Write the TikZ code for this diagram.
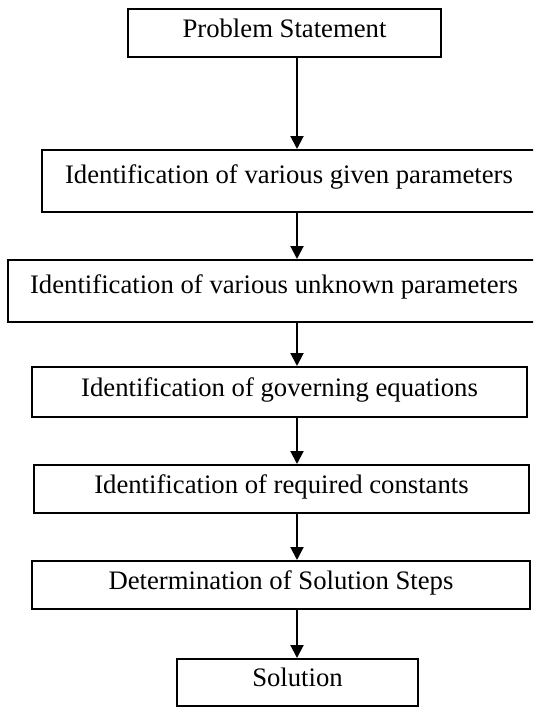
\documentclass[tikz,border=0pt]{standalone}
\usepackage{fontspec}
\setmainfont{Liberation Serif}
\usetikzlibrary{arrows.meta}

\begin{document}
\begin{tikzpicture}[x=1pt, y=-1pt,
  every node/.style={font=\fontsize{26.7}{32}\selectfont},
  stepbox/.style={draw=black, line width=2pt, rectangle, inner sep=0pt,
    text height=0.85em, text depth=0.03em},
  lowbox/.style={stepbox, text height=0.65em, text depth=0.24em},
  flow/.style={line width=2pt, -{Triangle[length=13pt, width=13pt]}}
]
  % page frame (the two widest boxes run past its right edge)
  \useasboundingbox (0,0) rectangle (533,707);
  \clip (0,0) rectangle (533,707);

  % process steps
  \node[stepbox, minimum width=313, minimum height=48] (ps)  at (284.5,33)  {Problem Statement};
  \node[lowbox,  minimum width=494, minimum height=62] (giv) at (289,181)   {Identification of various given parameters};
  \node[lowbox,  minimum width=532, minimum height=62] (unk) at (274,291)   {Identification of various unknown parameters};
  \node[stepbox, minimum width=495, minimum height=50] (gov) at (279.5,392) {Identification of governing equations};
  \node[stepbox, minimum width=495, minimum height=48] (con) at (281.5,489) {Identification of required constants};
  \node[stepbox, minimum width=498, minimum height=48] (det) at (281,585)   {Determination of Solution Steps};
  \node[stepbox, minimum width=241, minimum height=47] (sol) at (297.5,682.5) {Solution};

  % vertical line the arrows follow
  \coordinate (axis) at (297,0);

  \draw[flow] (ps.south  -| axis) -- (giv.north -| axis);
  \draw[flow] (giv.south -| axis) -- (unk.north -| axis);
  \draw[flow] (unk.south -| axis) -- (gov.north -| axis);
  \draw[flow] (gov.south -| axis) -- (con.north -| axis);
  \draw[flow] (con.south -| axis) -- (det.north -| axis);
  \draw[flow] (det.south -| axis) -- (sol.north -| axis);
\end{tikzpicture}
\end{document}
